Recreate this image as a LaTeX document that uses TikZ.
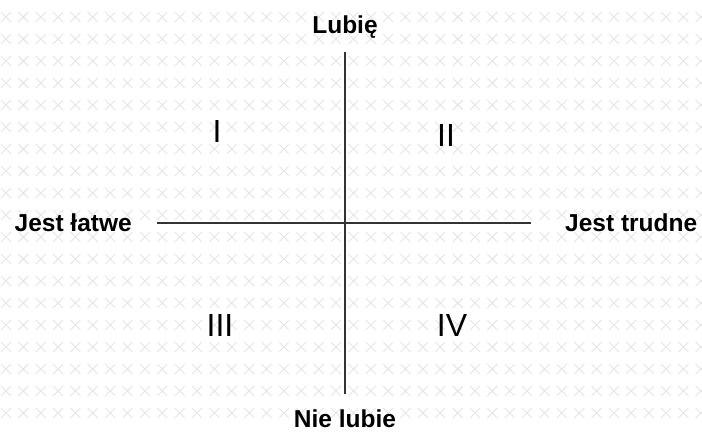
\documentclass[tikz,border=0pt]{standalone}
\usepackage{fontspec}
\setmainfont{Liberation Sans}
\usepackage{tikz}
\usetikzlibrary{positioning}

\begin{document}
\begin{tikzpicture}[x=1pt, y=-1pt,
    oslabel/.style={font=\fontsize{24.5}{29}\selectfont\bfseries, inner sep=0pt},
    cwiartka/.style={font=\fontsize{32}{38}\selectfont, inner sep=0pt, anchor=base},
    os/.style={line width=1.5pt, black!80}]
  \useasboundingbox (0,0) rectangle (702,432);
  % Tlo (krzyzyki)
  \foreach \i in {0,...,40}
    \foreach \j in {-1,...,18}
      \draw[black!10, line width=0.9pt] (6+17.37*\i-5, 17+22*\j-5) -- ++(10,10)
        (6+17.37*\i-5, 17+22*\j+5) -- ++(10,-10);
  % Konce osi
  \coordinate (gora) at (345,52);
  \coordinate (dol) at (345,394);
  \coordinate (lewo) at (157,223);
  \coordinate (prawo) at (531,223);
  % Osie
  \draw[os] (gora) -- (dol);
  \draw[os] (lewo) -- (prawo);
  % Opisy osi
  \node[oslabel, anchor=base] (lubie) at (345,33.3) {Lubię};
  \node[oslabel, anchor=base] (nielubie) at (345,427) {Nie lubie};
  \node[oslabel, anchor=base east] (latwe) at (132,231.7) {Jest łatwe};
  \node[oslabel, anchor=base west] (trudne) at (565,231.7) {Jest trudne};
  % Cwiartki
  \node[cwiartka] (q1) at (217,142.7) {I};
  \node[cwiartka] (q2) at (446,146.7) {II};
  \node[cwiartka] (q3) at (220,336) {III};
  \node[cwiartka] (q4) at (452,336) {IV};
\end{tikzpicture}
\end{document}
